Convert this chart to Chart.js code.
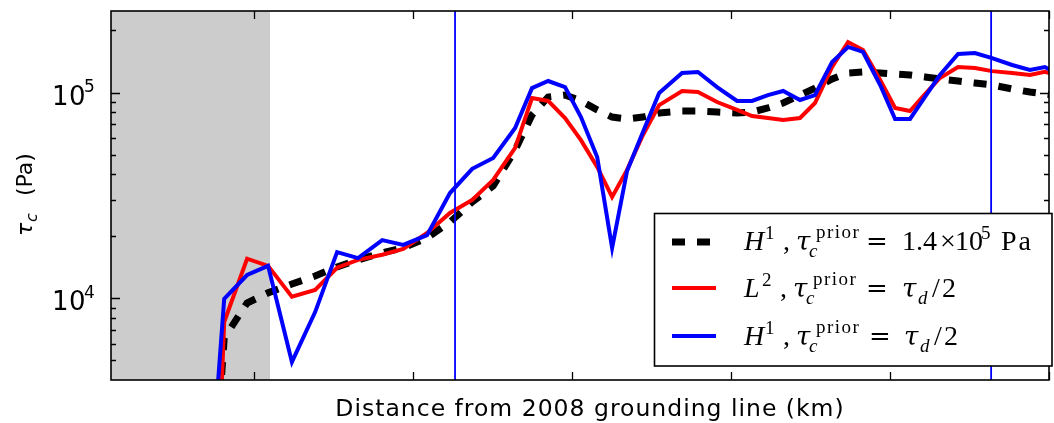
<!DOCTYPE html>
<html><head><meta charset="utf-8">
<script src="https://cdn.jsdelivr.net/npm/chart.js@4.4.1/dist/chart.umd.min.js"></script>
<style>html,body{margin:0;padding:0;background:#fff;overflow:hidden}canvas{display:block}</style>
</head><body>
<canvas id="c" width="1054" height="423"></canvas>
<script>
// ---- data ----
const distanceKm = [-16.7, -9.4, -2.2, 4.4, 11.9, 19.2, 26.1, 32.7, 40.3, 46.9, 54.4, 61.6, 68.6, 75.2, 82.1, 87.4, 92.5, 97.8, 102.8, 107.9, 112.6, 117.3, 122.3, 127.4, 134.6, 139.6, 145.6, 151.9, 156.6, 161.6, 166.4, 171.7, 176.4, 181.8, 186.8, 191.5, 196.9, 201.6, 206.3, 211.0, 215.7, 221.4, 226.7, 232.1, 238.4, 244.0, 248.7, 253.5];
const tauH1Const = [150, 6430, 9510, 10650, 11750, 12850, 14230, 15400, 16650, 17600, 19700, 23500, 29400, 35200, 52600, 77800, 95100, 97200, 91000, 82300, 76000, 74400, 76000, 79500, 81300, 81300, 80400, 79500, 80400, 84100, 88900, 97200, 105100, 116300, 124400, 125800, 124400, 123000, 121600, 119000, 116300, 113700, 111200, 108800, 104000, 100500, 98300, 96200];
const tauL2Half = [10, 7690, 15600, 14400, 10200, 11000, 14100, 15400, 16300, 17400, 20800, 26000, 30100, 37600, 53800, 94000, 91000, 75200, 58700, 43500, 31100, 42100, 62200, 86900, 101700, 100500, 89900, 82300, 76900, 75200, 73600, 75200, 88900, 133000, 175800, 160800, 115000, 84100, 81300, 98300, 117600, 133000, 131500, 127000, 124400, 121600, 125900, 120300];
const tauH1Half = [300, 9950, 13000, 14400, 4920, 8590, 16800, 15700, 19200, 18200, 20300, 32500, 42600, 48100, 67300, 105000, 113700, 106300, 76000, 48600, 17600, 41600, 64300, 99400, 124400, 125700, 106300, 91000, 91000, 97200, 101700, 92000, 97200, 140600, 166400, 157300, 108800, 74400, 74400, 95100, 121600, 153800, 155500, 147000, 136000, 128600, 133000, 121600];
const xTicksKm = [0, 50, 100, 150, 200, 250];
const yMajorTicks = [1e4, 1e5];
const yMajorLabelExp = ['4', '5'];
const yMinorTicks = [5000, 6000, 7000, 8000, 9000, 20000, 30000, 40000, 50000, 60000, 70000, 80000, 90000, 200000];
const shadedKm = [-45, 5];
const markerLinesKm = [63.2, 231.8];
const xTitle = 'Distance from 2008 grounding line (km)';

const pts = arr => distanceKm.map((x, i) => ({x: x, y: arr[i]}));

function seg(ctx, t, x, y, size, italic, family, spacing) {
  ctx.font = (italic ? 'italic ' : '') + size + 'px ' + (family || '"Liberation Serif"');
  ctx.letterSpacing = (spacing || 0) + 'px';
  ctx.fillText(t, x, y);
  ctx.letterSpacing = '0px';
}

const deco = {
  id: 'deco',
  beforeDraw(chart) {
    const ctx = chart.ctx;
    ctx.save(); ctx.fillStyle = '#fff'; ctx.fillRect(0, 0, chart.width, chart.height); ctx.restore();
  },
  beforeDatasetsDraw(chart) {
    const {ctx, chartArea: a, scales: {x}} = chart;
    const x0 = Math.max(a.left, x.getPixelForValue(shadedKm[0]));
    const x1 = x.getPixelForValue(shadedKm[1]);
    ctx.save(); ctx.fillStyle = '#cccccc';
    ctx.fillRect(x0, a.top, x1 - x0, a.bottom - a.top);
    ctx.restore();
  },
  afterDatasetsDraw(chart) {
    const {ctx, chartArea: a, scales: {x, y}} = chart;
    ctx.save();
    // vertical marker lines
    ctx.strokeStyle = '#0000ff'; ctx.lineWidth = 1.8;
    markerLinesKm.forEach(v => {
      const px = x.getPixelForValue(v);
      ctx.beginPath(); ctx.moveTo(px, a.top); ctx.lineTo(px, a.bottom); ctx.stroke();
    });
    // ticks
    ctx.strokeStyle = '#000'; ctx.lineWidth = 1.3;
    xTicksKm.forEach(v => {
      const px = Math.round(x.getPixelForValue(v)) + 0.5;
      ctx.beginPath();
      ctx.moveTo(px, a.bottom); ctx.lineTo(px, a.bottom - 8);
      ctx.moveTo(px, a.top); ctx.lineTo(px, a.top + 8);
      ctx.stroke();
    });
    const yt = (v, len) => {
      const py = Math.round(y.getPixelForValue(v)) + 0.5;
      ctx.beginPath();
      ctx.moveTo(a.left, py); ctx.lineTo(a.left + len, py);
      ctx.moveTo(a.right, py); ctx.lineTo(a.right - len, py);
      ctx.stroke();
    };
    yMajorTicks.forEach(v => yt(v, 9));
    yMinorTicks.forEach(v => yt(v, 5));
    // spines
    ctx.lineWidth = 1.6;
    ctx.strokeRect(a.left, a.top, a.right - a.left, a.bottom - a.top);
    // y tick labels
    ctx.fillStyle = '#000'; ctx.textBaseline = 'alphabetic'; ctx.textAlign = 'left';
    yMajorTicks.forEach((v, i) => {
      const py = y.getPixelForValue(v);
      seg(ctx, '10', 52, py + 12, 26, false, '"DejaVu Sans"', 0.5);
      seg(ctx, yMajorLabelExp[i], 84, py - 0.5, 17, false, '"DejaVu Sans"');
    });
    // x title
    ctx.textAlign = 'center';
    seg(ctx, xTitle, 590, 416, 23.5, false, '"DejaVu Sans"', 1.0);
    ctx.textAlign = 'left';
    // y title (rotated, reading bottom to top)
    ctx.save();
    ctx.translate(32, 237);
    ctx.rotate(-Math.PI / 2);
    seg(ctx, 'τ', 1, 0, 22, true, '"DejaVu Sans"');
    seg(ctx, 'c', 15, 5, 16, true, '"DejaVu Sans"');
    seg(ctx, '(Pa)', 41, 0, 22, false, '"DejaVu Sans"');
    ctx.restore();
    // legend box
    const L = 654.5, T = 213.5, R = 1052, B = 366;
    ctx.fillStyle = '#fff'; ctx.fillRect(L, T, R - L, B - T);
    ctx.strokeStyle = '#000'; ctx.lineWidth = 1.6; ctx.strokeRect(L, T, R - L, B - T);
    // samples
    const ds = chart.data.datasets;
    const rows = [242, 288, 336];
    rows.forEach((ry, i) => {
      const d = ds[i];
      ctx.strokeStyle = d.borderColor; ctx.lineWidth = d.borderWidth;
      ctx.setLineDash(d.borderDash || []); ctx.lineCap = 'butt';
      ctx.beginPath(); ctx.moveTo(672, ry); ctx.lineTo(716, ry); ctx.stroke();
      ctx.setLineDash([]);
    });
    // legend texts
    ctx.fillStyle = '#000';
    const M = 28, S = 19;
    const eq = (xx, yy) => seg(ctx, '=', xx, yy, 26, false, '"DejaVu Serif"');
    const tau = (xx, yy) => seg(ctx, 'τ', xx, yy, 26, true, '"DejaVu Serif"');
    let b = 250;
    seg(ctx, 'H', 744, b, M, true); seg(ctx, '1', 765, b - 11, S, false);
    seg(ctx, ',', 783, b, M, false);
    tau(796, b); seg(ctx, 'c', 809, b + 7, S, true);
    seg(ctx, 'prior', 816, b - 12, S, false, null, 1.5);
    eq(866, b); seg(ctx, '1.4', 902, b, M, false); seg(ctx, '×', 940, b, M, false);
    seg(ctx, '10', 955, b, M, false); seg(ctx, '5', 981, b - 11, S, false);
    seg(ctx, 'Pa', 1001, b, M, false, null, 2);
    b = 297;
    seg(ctx, 'L', 744, b, M, true); seg(ctx, '2', 762, b - 11, S, false);
    seg(ctx, ',', 780, b, M, false);
    tau(793, b); seg(ctx, 'c', 806, b + 7, S, true);
    seg(ctx, 'prior', 813, b - 12, S, false, null, 1.5);
    eq(866, b); tau(902, b); seg(ctx, 'd', 918, b + 7, S, true);
    seg(ctx, '/', 932, b, M, false); seg(ctx, '2', 942, b, M, false);
    b = 345;
    seg(ctx, 'H', 744, b, M, true); seg(ctx, '1', 765, b - 11, S, false);
    seg(ctx, ',', 783, b, M, false);
    tau(796, b); seg(ctx, 'c', 809, b + 7, S, true);
    seg(ctx, 'prior', 816, b - 12, S, false, null, 1.5);
    eq(869, b); tau(904, b); seg(ctx, 'd', 920, b + 7, S, true);
    seg(ctx, '/', 934, b, M, false); seg(ctx, '2', 944, b, M, false);
    ctx.restore();
  }
};

new Chart(document.getElementById('c'), {
  type: 'line',
  data: {
    datasets: [
      {label: 'H1, tau_c^prior = 1.4e5 Pa', data: pts(tauH1Const), borderColor: '#000000', borderWidth: 7, borderDash: [13, 12], order: 3},
      {label: 'L2, tau_c^prior = tau_d/2', data: pts(tauL2Half), borderColor: '#ff0000', borderWidth: 4, order: 2},
      {label: 'H1, tau_c^prior = tau_d/2', data: pts(tauH1Half), borderColor: '#0000ff', borderWidth: 4, order: 1}
    ].map(d => Object.assign({pointRadius: 0, tension: 0, fill: false, clip: 0, borderCapStyle: 'butt', borderJoinStyle: 'miter'}, d))
  },
  options: {
    responsive: false, animation: false, devicePixelRatio: 1,
    layout: {padding: {left: 111, top: 11, right: 5, bottom: 43}},
    plugins: {legend: {display: false}, tooltip: {enabled: false}},
    scales: {
      x: {type: 'linear', min: -45, max: 250, display: false},
      y: {type: 'logarithmic', min: 4020, max: 248700, display: false}
    }
  },
  plugins: [deco]
});
</script>
</body></html>
